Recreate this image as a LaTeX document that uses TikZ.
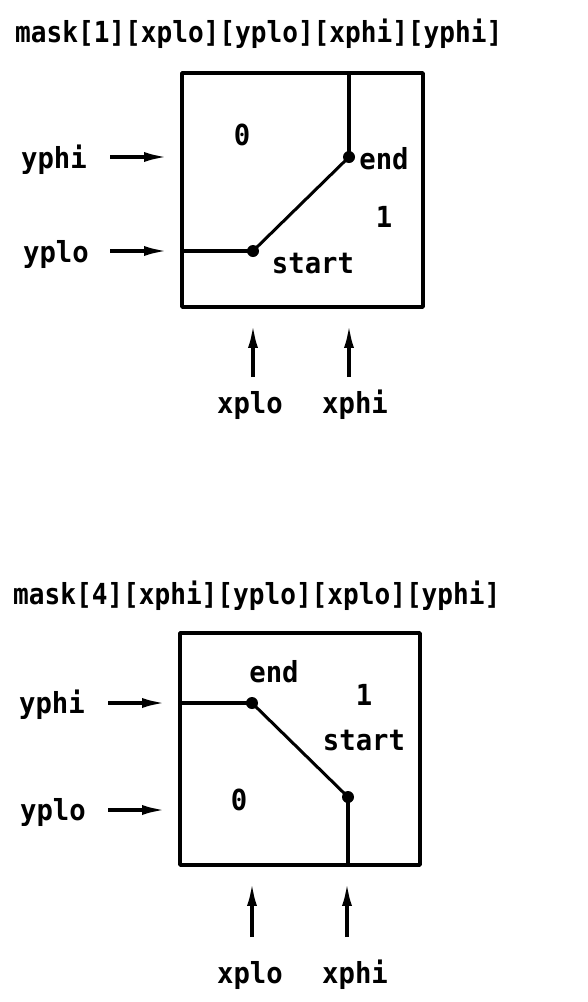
\documentclass[tikz,border=0pt]{standalone}
\usepackage{fontspec}
\newfontfamily\labfont[FakeStretch=0.94]{DejaVu Sans Mono}
\newfontfamily\ttlfont[FakeStretch=0.90]{DejaVu Sans Mono}
\usetikzlibrary{arrows.meta}
\tikzset{
  boxst/.style={draw, line width=3.8pt, inner sep=0pt, line join=round},
  lab/.style={inner sep=0pt, anchor=base, font=\labfont\bfseries\fontsize{29}{29}\selectfont},
  ttl/.style={inner sep=0pt, anchor=base west, font=\ttlfont\bfseries\fontsize{29}{29}\selectfont},
  arr/.style={line width=3.6pt, -{Latex[length=24pt,width=10pt]}},
  cut/.style={line width=3.6pt},
  diag/.style={line width=3pt},
  dot/.style={circle, fill, inner sep=0pt, minimum size=12pt}
}
\begin{document}
\begin{tikzpicture}[x=1pt,y=-1pt]
\useasboundingbox (0,0) rectangle (588,1002);
% ---------- top diagram ----------
\node[ttl] (t1) at (15,42) {mask[1][xplo][yplo][xphi][yphi]};
\node[boxst, minimum width=241pt, minimum height=234pt] (box1) at (302.5,190) {};
\coordinate (e1) at (349,157);
\coordinate (s1) at (253,251);
\draw[cut] (box1.north -| e1) -- (e1);
\draw[cut] (box1.west |- s1) -- (s1);
\draw[diag] (s1) -- (e1);
\node[dot] at (e1) {};
\node[dot] at (s1) {};
\node[lab] (z1) at (242,145) {0};
\node[lab] (o1) at (384,227) {1};
\node[lab] (end1) at (384,169) {end};
\node[lab] (st1) at (313,273) {start};
\node[lab] (yphi1) at (54,168) {yphi};
\node[lab] (yplo1) at (56,262) {yplo};
\node[lab] (xplo1) at (250,413) {xplo};
\node[lab] (xphi1) at (355,413) {xphi};
\coordinate (a1) at (110,157);
\coordinate (a2) at (110,251);
\coordinate (a3) at (253,377);
\coordinate (a4) at (349,377);
\draw[arr, shorten >=12pt] (a1) -- (box1.west |- a1);
\draw[arr, shorten >=12pt] (a2) -- (box1.west |- a2);
\draw[arr, shorten >=15pt] (a3) -- (box1.south -| a3);
\draw[arr, shorten >=15pt] (a4) -- (box1.south -| a4);
% ---------- bottom diagram ----------
\node[ttl] (t2) at (13,604) {mask[4][xphi][yplo][xplo][yphi]};
\node[boxst, minimum width=240pt, minimum height=232pt] (box2) at (300,749) {};
\coordinate (e2) at (252,703);
\coordinate (s2) at (348,797);
\draw[cut] (box2.west |- e2) -- (e2);
\draw[cut] (s2) -- (box2.south -| s2);
\draw[diag] (e2) -- (s2);
\node[dot] at (e2) {};
\node[dot] at (s2) {};
\node[lab] (end2) at (274,682) {end};
\node[lab] (o2) at (364,705) {1};
\node[lab] (st2) at (364,750) {start};
\node[lab] (z2) at (239,810) {0};
\node[lab] (yphi2) at (52,713) {yphi};
\node[lab] (yplo2) at (53,820) {yplo};
\node[lab] (xplo2) at (250,983) {xplo};
\node[lab] (xphi2) at (355,983) {xphi};
\coordinate (b1) at (108,703);
\coordinate (b2) at (108,810);
\coordinate (b3) at (252,937);
\coordinate (b4) at (347,937);
\draw[arr, shorten >=12pt] (b1) -- (box2.west |- b1);
\draw[arr, shorten >=12pt] (b2) -- (box2.west |- b2);
\draw[arr, shorten >=15pt] (b3) -- (box2.south -| b3);
\draw[arr, shorten >=15pt] (b4) -- (box2.south -| b4);
\end{tikzpicture}
\end{document}
